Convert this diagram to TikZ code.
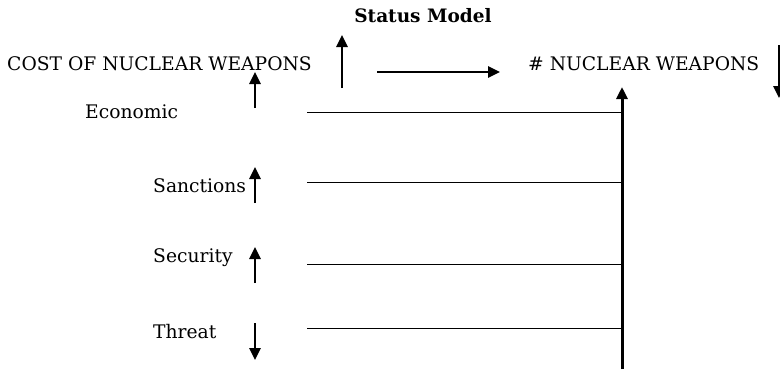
\documentclass[tikz,border=0pt]{standalone}
\usepackage{fontspec}
\setmainfont{DejaVu Serif}
\usetikzlibrary{calc}
\usetikzlibrary{arrows.meta}
\newcommand{\axisx}{622}
\newcommand{\linexs}{307}
\newcommand{\trendx}{255}
\newcommand{\labelx}{153}
\tikzset{
  lbl/.style={anchor=west,inner sep=0pt,font=\fontsize{18.7}{22}\selectfont},
  trend/.style={line width=2.7pt,-{Triangle[width=11pt,length=12pt]}},
  rung/.style={line width=1pt},
}

\begin{document}
\begin{tikzpicture}[x=1pt,y=-1pt]
    \useasboundingbox (0,0) rectangle (780,370);
    % title
    \node[inner sep=0pt,font=\fontsize{18.5}{22}\selectfont\bfseries] (title) at (423,16) {Status Model};
    % top row
    \node[lbl] (cost) at (7,64) {COST OF NUCLEAR WEAPONS};
    \node[lbl] (nukes) at (528,64) {\# NUCLEAR WEAPONS};
    \coordinate (flowS) at (377,72);
    \coordinate (flowE) at (500,72);
    \draw[trend] (flowS) -- (flowE);
    \draw[trend] (342,88) -- (342,35);
    \draw[trend] (779,45) -- (779,98);
    % factors
    \node[lbl] (econ) at (85,112) {Economic};
    \node[lbl] (sanct) at (\labelx,186) {Sanctions};
    \node[lbl] (secur) at (\labelx,258) {Security};
    \node[lbl] (threat) at (\labelx,332) {Threat};
    \draw[trend] (\trendx,108) -- (\trendx,72);
    \draw[trend] (\trendx,203) -- (\trendx,167);
    \draw[trend] (\trendx,283) -- (\trendx,247);
    \draw[trend] (\trendx,323) -- (\trendx,360);
    % axis
    \coordinate (axisB) at (\axisx,369);
    \coordinate (axisT) at (\axisx,87);
    \draw[trend,line width=3pt] (axisB) -- (axisT);
    \begin{scope}
      \coordinate (econL) at (\linexs,112);
      \coordinate (sanctL) at (\linexs,182);
      \coordinate (securL) at (\linexs,264);
      \coordinate (threatL) at (\linexs,328);
      \foreach \c in {econL,sanctL,securL,threatL}
        \draw[rung] (\c) -- (\c -| axisB);
    \end{scope}
\end{tikzpicture}
\end{document}
